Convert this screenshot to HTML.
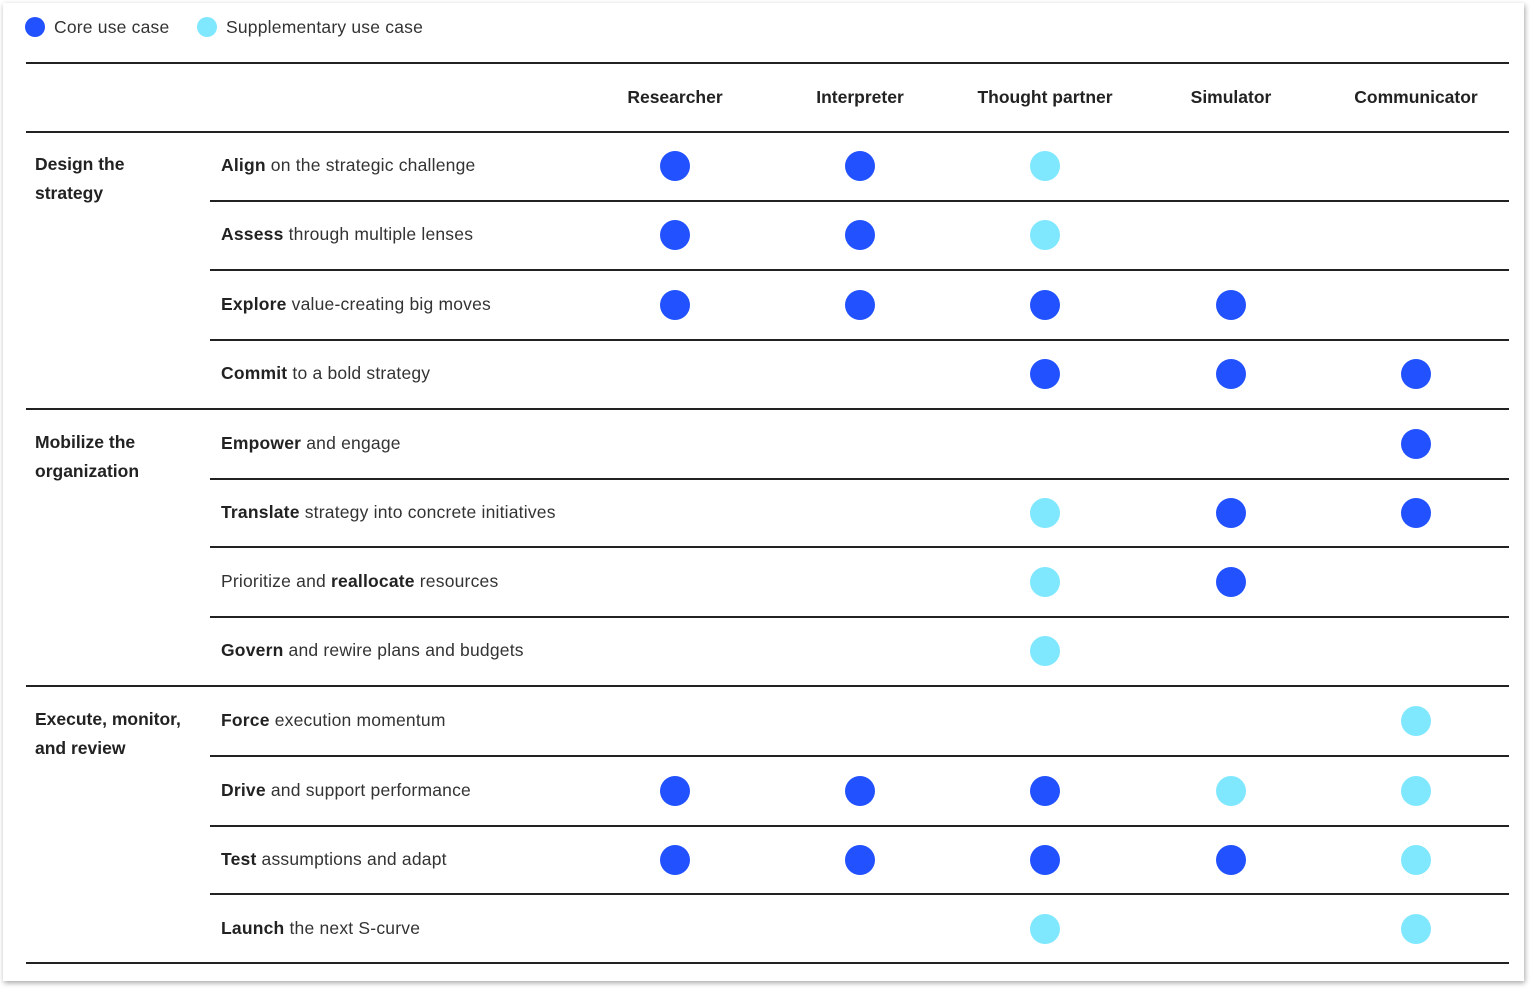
<!DOCTYPE html>
<html><head><meta charset="utf-8"><style>
body{margin:0;width:1533px;height:990px;background:#fff;font-family:"Liberation Sans",sans-serif;color:#222;position:relative;overflow:hidden}
.card{position:absolute;left:3px;top:3px;width:1521px;height:978px;background:#fff;box-shadow:1px 2px 5px rgba(0,0,0,.35)}
.a{position:absolute;white-space:nowrap}
.l{position:absolute;height:2px;background:#222}
.d{position:absolute;width:30px;height:30px;border-radius:50%}
.c{background:#2251ff}.s{background:#7fe8ff}
.t{font-size:17.5px;color:#333;letter-spacing:0.2px}
.t b{color:#222}
.g{font-size:17.5px;font-weight:bold;line-height:29px;color:#222}
.h{font-size:17.5px;font-weight:bold;color:#222;transform:translateX(-50%)}
</style></head><body><div class="card"></div>
<div class="d c" style="left:25px;top:17px;width:20px;height:20px"></div>
<div class="a t" style="left:54px;top:17px">Core use case</div>
<div class="d s" style="left:197px;top:17px;width:20px;height:20px"></div>
<div class="a t" style="left:226px;top:17px">Supplementary use case</div>
<div class="a h" style="left:675px;top:87px">Researcher</div>
<div class="a h" style="left:860px;top:87px">Interpreter</div>
<div class="a h" style="left:1045px;top:87px">Thought partner</div>
<div class="a h" style="left:1231px;top:87px">Simulator</div>
<div class="a h" style="left:1416px;top:87px">Communicator</div>
<div class="l" style="left:26px;width:1483px;top:62px"></div>
<div class="l" style="left:26px;width:1483px;top:131px"></div>
<div class="l" style="left:26px;width:1483px;top:408px"></div>
<div class="l" style="left:26px;width:1483px;top:685px"></div>
<div class="l" style="left:26px;width:1483px;top:962px"></div>
<div class="a g" style="left:35px;top:150px">Design the<br>strategy</div>
<div class="a g" style="left:35px;top:428px">Mobilize the<br>organization</div>
<div class="a g" style="left:35px;top:705px">Execute, monitor,<br>and review</div>
<div id="r"></div>
<script>
var rows=[[166,"<b>Align</b> on the strategic challenge","CCS--"],[235,"<b>Assess</b> through multiple lenses","CCS--"],[305,"<b>Explore</b> value-creating big moves","CCCC-"],[374,"<b>Commit</b> to a bold strategy","--CCC"],[444,"<b>Empower</b> and engage","----C"],[513,"<b>Translate</b> strategy into concrete initiatives","--SCC"],[582,"Prioritize and <b>reallocate</b> resources","--SC-"],[651,"<b>Govern</b> and rewire plans and budgets","--S--"],[721,"<b>Force</b> execution momentum","----S"],[791,"<b>Drive</b> and support performance","CCCSS"],[860,"<b>Test</b> assumptions and adapt","CCCCS"],[929,"<b>Launch</b> the next S-curve","--S-S"]];
var xs=[675,860,1045,1231,1416],h="";
var lines=[200,269,339,478,546,616,755,825,893];
lines.forEach(function(y){h+='<div class="l" style="left:210px;width:1299px;top:'+y+'px"></div>'});
rows.forEach(function(r){h+='<div class="a t" style="left:221px;top:'+(r[0]-11)+'px">'+r[1]+'</div>';
for(var i=0;i<5;i++){var k=r[2][i];if(k!='-')h+='<div class="d '+(k=='C'?'c':'s')+'" style="left:'+(xs[i]-15)+'px;top:'+(r[0]-15)+'px"></div>';}});
document.getElementById('r').innerHTML=h;
</script></body></html>
